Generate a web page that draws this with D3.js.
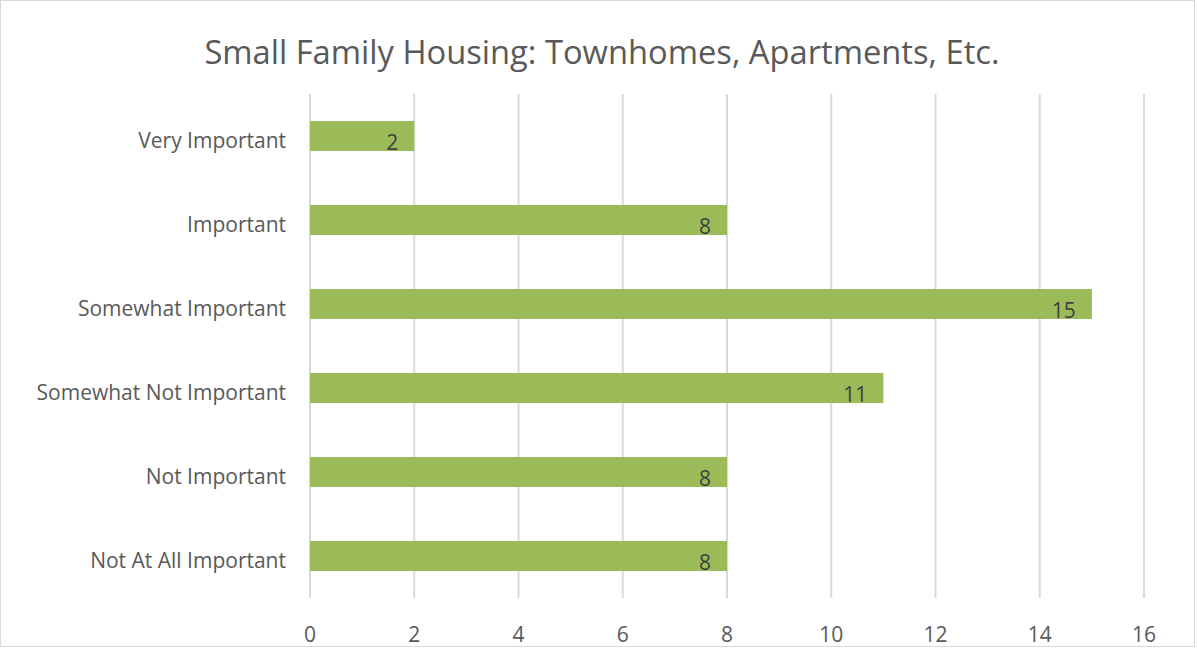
<!DOCTYPE html>
<html>
<head>
<meta charset="utf-8">
<script src="https://cdn.jsdelivr.net/npm/d3@7"></script>
<style>
  body { margin: 0; background: #fff; }
  svg { display: block; }
</style>
</head>
<body>
<svg id="chart"></svg>
<script>
// chart data
const categories = ["Very Important", "Important", "Somewhat Important", "Somewhat Not Important", "Not Important", "Not At All Important"]
const counts = [2, 8, 15, 11, 8, 8]
const xTicks = [0, 2, 4, 6, 8, 10, 12, 14, 16]
const title = "Small Family Housing: Townhomes, Apartments, Etc."

const width = 1197,
    height = 649
const margin = {top: 94, right: 53, bottom: 51, left: 310}
const font = "'Open Sans', 'Noto Sans', sans-serif"

const svg = d3.select("#chart")
    .attr("width", width)
    .attr("height", height)

// outer border of the chart
svg.append("rect")
    .attr("x", 0.5).attr("y", 0.5)
    .attr("width", width - 3).attr("height", height - 3)
    .attr("fill", "#fff")
    .attr("stroke", "#d9d9d9")

svg.append("text")
    .attr("x", 602).attr("y", 64)
    .attr("text-anchor", "middle")
    .style("font-family", font)
    .style("font-size", "32.7px")
    .style("fill", "#595959")
    .text(title)

const x = d3.scaleLinear()
    .domain([0, 16])
    .range([margin.left, width - margin.right])

const y = d3.scaleBand()
    .domain(categories)
    .range([margin.top, height - margin.bottom])
    .paddingInner(0.643)
    .paddingOuter(0.3215)

// vertical gridlines
svg.append("g")
  .selectAll("line")
  .data(xTicks)
  .join("line")
    .attr("x1", d => x(d)).attr("x2", d => x(d))
    .attr("y1", margin.top).attr("y2", height - margin.bottom)
    .attr("stroke", "#d9d9d9")
    .attr("stroke-width", 2)

// x tick labels
svg.append("g")
  .selectAll("text")
  .data(xTicks)
  .join("text")
    .attr("x", d => x(d))
    .attr("y", 642)
    .attr("text-anchor", "middle")
    .style("font-family", font)
    .style("font-size", "21px")
    .style("fill", "#595959")
    .text(d => d)

// category labels
svg.append("g")
  .selectAll("text")
  .data(categories)
  .join("text")
    .attr("x", margin.left - 24)
    .attr("y", d => y(d) + y.bandwidth() / 2 + 12)
    .attr("text-anchor", "end")
    .style("font-family", font)
    .style("font-size", "21px")
    .style("fill", "#595959")
    .text(d => d)

// bars
svg.append("g")
  .selectAll("rect")
  .data(counts)
  .join("rect")
    .attr("x", x(0))
    .attr("y", (d, i) => y(categories[i]))
    .attr("width", d => x(d) - x(0))
    .attr("height", y.bandwidth())
    .attr("fill", "#9bbb59")

// value labels, inside end
svg.append("g")
  .selectAll("text")
  .data(counts)
  .join("text")
    .attr("x", d => x(d) - 16)
    .attr("y", (d, i) => y(categories[i]) + y.bandwidth() - 1)
    .attr("text-anchor", "end")
    .style("font-family", font)
    .style("font-size", "21px")
    .style("fill", "#404040")
    .text(d => d)
</script>
</body>
</html>
